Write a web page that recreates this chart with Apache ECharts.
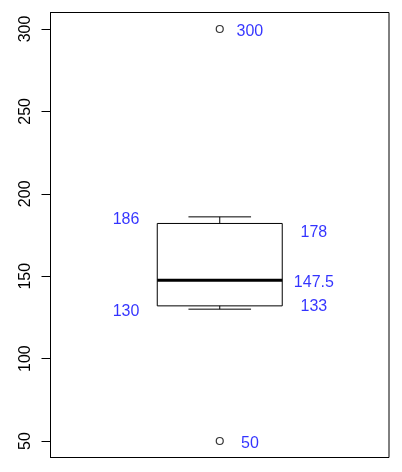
<!DOCTYPE html>
<html>
<head>
<meta charset="utf-8">
<script src="https://cdn.jsdelivr.net/npm/echarts@6/dist/echarts.min.js"></script>
<style>html,body{margin:0;padding:0;background:#fff;}#c{width:402px;height:472px;}</style>
</head>
<body>
<div id="c"></div>
<script>
// Box statistics: [lower whisker, lower hinge, median, upper hinge, upper whisker]
var boxStats = [130, 132, 147.5, 182, 186];
var outliers = [300, 50];
var tickValues = [50, 100, 150, 200, 250, 300];
// Annotated numbers (quantile values printed beside the box)
var leftLabels = [186, 130];
var rightLabels = [178, 147.5, 133];
var outlierLabels = [300, 50];

var chart = echarts.init(document.getElementById('c'), null, {renderer: 'canvas'});
var FONT = '"Liberation Sans", Arial, sans-serif';

function labelSeries(vals, xPos) {
  return {
    type: 'scatter',
    symbol: 'circle',
    symbolSize: 0,
    silent: true,
    data: vals.map(function (v) { return [xPos, v]; }),
    label: {
      show: true,
      position: 'inside',
      offset: [0, 2.5],
      formatter: function (p) { return String(p.value[1]); },
      color: '#0000FF',
      fontSize: 16,
      fontFamily: FONT
    },
    z: 5
  };
}

chart.setOption({
  animation: false,
  backgroundColor: '#ffffff',
  grid: {left: 50.5, right: 13, top: 12.5, bottom: 14.5, show: true, borderColor: '#000', borderWidth: 1},
  xAxis: {type: 'value', min: 0.5, max: 1.5, show: false},
  yAxis: {
    type: 'value', min: 40, max: 310,
    splitLine: {show: false},
    axisLine: {show: true, lineStyle: {color: '#000', width: 1}},
    axisTick: {show: true, customValues: tickValues, length: 9, lineStyle: {color: '#000', width: 1}},
    axisLabel: {
      customValues: tickValues, rotate: 90, margin: 17,
      color: '#000', fontSize: 16, fontFamily: FONT,
      align: 'center', verticalAlign: 'bottom'
    }
  },
  series: [
    {
      type: 'custom',
      data: [[1].concat(boxStats)],
      encode: {x: 0, y: [1, 2, 3, 4, 5]},
      renderItem: function (params, api) {
        var x = api.value(0);
        var lo = api.value(1), q1 = api.value(2), med = api.value(3), q3 = api.value(4), hi = api.value(5);
        var halfBox = api.size([0.1846, 0])[0];
        var halfStaple = api.size([0.0925, 0])[0];
        var c = api.coord([x, 0])[0];
        var yLo = api.coord([x, lo])[1], yQ1 = api.coord([x, q1])[1], yMed = api.coord([x, med])[1];
        var yQ3 = api.coord([x, q3])[1], yHi = api.coord([x, hi])[1];
        var s = {stroke: '#000', lineWidth: 1, fill: null};
        return {
          type: 'group',
          children: [
            {type: 'rect', shape: {x: c - halfBox, y: yQ3, width: 2 * halfBox, height: yQ1 - yQ3}, style: {stroke: '#000', lineWidth: 1, fill: 'rgba(0,0,0,0)'}},
            {type: 'line', shape: {x1: c, y1: yQ3, x2: c, y2: yHi}, style: s},
            {type: 'line', shape: {x1: c, y1: yQ1, x2: c, y2: yLo}, style: s},
            {type: 'line', shape: {x1: c - halfStaple, y1: yHi, x2: c + halfStaple, y2: yHi}, style: s},
            {type: 'line', shape: {x1: c - halfStaple, y1: yLo, x2: c + halfStaple, y2: yLo}, style: s},
            {type: 'line', shape: {x1: c - halfBox, y1: yMed, x2: c + halfBox, y2: yMed}, style: {stroke: '#000', lineWidth: 3}}
          ]
        };
      }
    },
    {
      type: 'scatter',
      symbol: 'circle',
      symbolSize: 7,
      data: outliers.map(function (v) { return [1, v]; }),
      itemStyle: {color: '#fff', borderColor: '#000', borderWidth: 1.2}
    },
    labelSeries(leftLabels, 0.723),
    labelSeries(rightLabels, 1.278),
    labelSeries(outlierLabels, 1.089)
  ]
});
</script>
</body>
</html>
